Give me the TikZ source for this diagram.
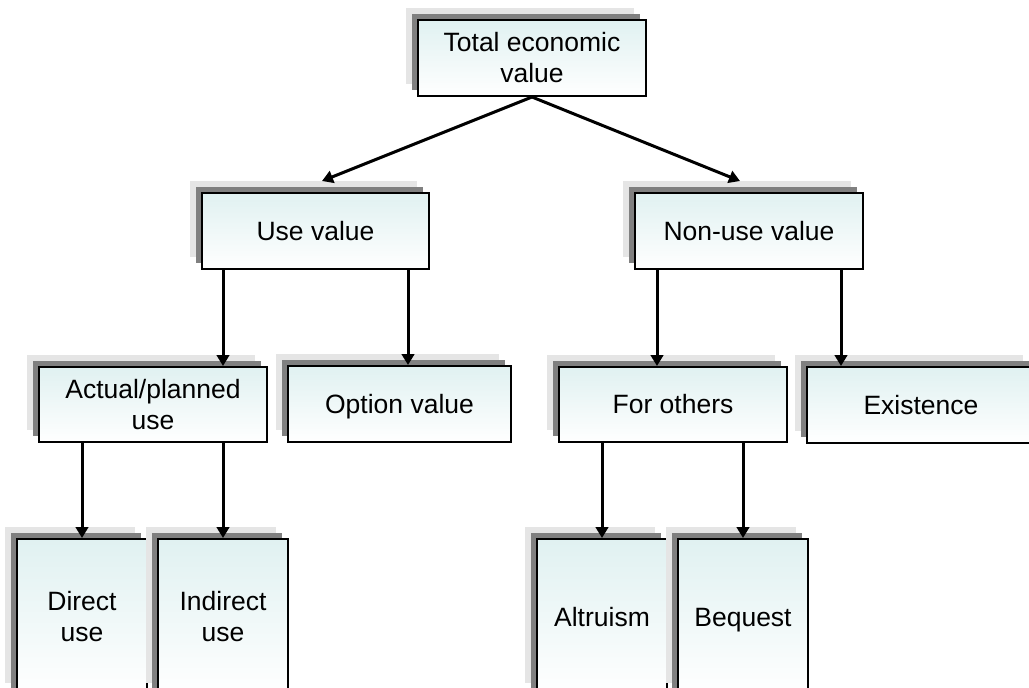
\documentclass[tikz,border=0pt]{standalone}
\usepackage{fontspec}
\setmainfont{Liberation Sans}
\usetikzlibrary{arrows.meta}
\definecolor{shlight}{RGB}{229,229,229}
\definecolor{shdark}{RGB}{128,128,128}
\definecolor{boxtop}{RGB}{224,241,241}
\newcommand\mystrut{\rule[-6.5pt]{0pt}{31pt}}
\begin{document}
\begin{tikzpicture}[x=1pt,y=-1pt,
  box/.style={draw=black, line width=2pt, top color=boxtop, bottom color=white,
    align=center, inner sep=0pt, font=\fontsize{26.5}{31}\selectfont,
    preaction={fill=shlight, draw=none, transform canvas={shift={(-12pt,12pt)}}},
    preaction={fill=shdark, draw=none, transform canvas={shift={(-6pt,6pt)}}}},
  wide/.style={box, minimum width=228pt, minimum height=76pt},
  tall/.style={box, minimum width=130pt, minimum height=156pt},
  arr/.style={line width=3pt, -{Triangle[length=11pt,width=12.5pt]}}]
\path[use as bounding box] (0,0) rectangle (1029,688);
\clip (0,0) rectangle (1029,688);

\node[wide] (tev) at (532,58) {Total economic\mystrut\\value\mystrut};
\node[wide, minimum width=227pt] (use) at (315.5,231) {Use value\mystrut};
\node[wide] (nonuse) at (749,231) {Non-use value\mystrut};
\node[wide, minimum height=75pt] (actual) at (153,404.5) {Actual/planned\mystrut\\use\mystrut};
\node[wide, minimum width=223pt] (option) at (399.5,404) {Option value\mystrut};
\node[wide, minimum height=75pt] (others) at (673,404.5) {For others\mystrut};
\node[wide] (exist) at (921,405) {Existence\mystrut};
\node[tall] (direct) at (82,617) {Direct\mystrut\\use\mystrut};
\node[tall] (indirect) at (223,617) {Indirect\mystrut\\use\mystrut};
\node[tall] (altru) at (602,617) {Altruism\mystrut};
\node[tall] (bequest) at (743,617) {Bequest\mystrut};

\draw[arr] (tev.south) -- ([xshift=6.5pt,yshift=11pt]use.north);
\draw[arr] (tev.south) -- ([xshift=-9pt,yshift=11pt]nonuse.north);
\draw[arr] ([xshift=-92.5pt]use.south) -- ([xshift=70pt]actual.north);
\draw[arr] ([xshift=92.5pt]use.south) -- ([xshift=8.5pt]option.north);
\draw[arr] ([xshift=-92pt]nonuse.south) -- ([xshift=-16pt]others.north);
\draw[arr] ([xshift=92pt]nonuse.south) -- ([xshift=-80pt]exist.north);
\draw[arr] ([xshift=-71pt]actual.south) -- (direct.north);
\draw[arr] ([xshift=70pt]actual.south) -- (indirect.north);
\draw[arr] ([xshift=-71pt]others.south) -- (altru.north);
\draw[arr] ([xshift=70pt]others.south) -- (bequest.north);
\end{tikzpicture}
\end{document}
